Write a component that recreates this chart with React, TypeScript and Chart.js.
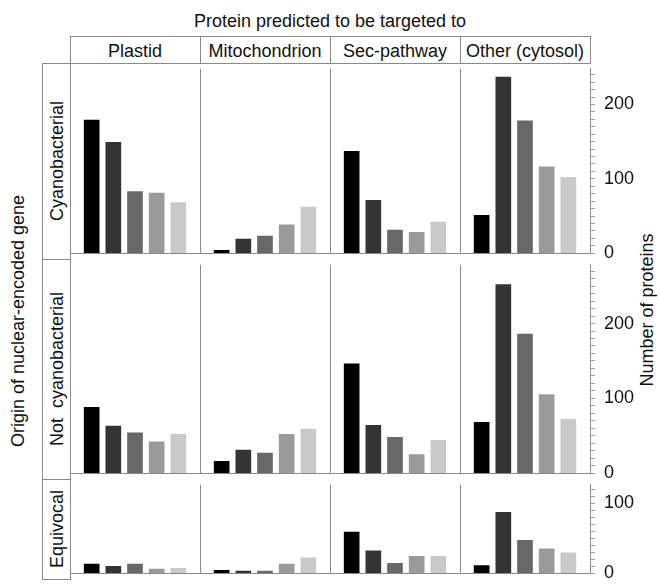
import React, { useEffect, useRef } from 'react';
import { Chart, registerables } from 'chart.js';

Chart.register(...registerables);

// ---- data ----
const targets = ['Plastid', 'Mitochondrion', 'Sec-pathway', 'Other (cytosol)'];
const origins = ['Cyanobacterial', 'Not  cyanobacterial', 'Equivocal'];
const shades = ['#000000', '#343434', '#686868', '#9a9a9a', '#c9c9c9'];

// each inner array: the 5 bars of one target panel
const cyanobacterial = [
  [179, 149, 83, 81, 68],
  [4, 19, 23, 38, 62],
  [137, 71, 31, 28, 42],
  [51, 237, 178, 116, 102],
];
const notCyanobacterial = [
  [88, 63, 54, 42, 52],
  [16, 31, 27, 52, 59],
  [146, 64, 48, 25, 44],
  [68, 252, 186, 105, 72],
];
const equivocal = [
  [13, 10, 13, 6, 7],
  [4, 3, 3, 13, 22],
  [59, 32, 14, 24, 24],
  [11, 87, 47, 35, 29],
];
const rowValues = [cyanobacterial, notCyanobacterial, equivocal];
const rowMax = [248, 278.5, 126.6];
const yAxisTitle = 'Number of proteins';
const xTitle = 'Protein predicted to be targeted to';
const leftTitle = 'Origin of nuclear-encoded gene';

// ---- layout ----
const FONT = "'Liberation Sans', Arial, Helvetica, sans-serif";
const FS = 18;
const LINE = '#8a8a8a';
const LEFT = 70;
const RIGHT = 590;
const ROW_TOP = [63, 259, 479];
const ROW_H = [196, 220, 100];
const PAD = 14;

function RowChart({ values, max, top, height }: { values: number[][]; max: number; top: number; height: number }) {
  const ref = useRef<HTMLCanvasElement | null>(null);
  useEffect(() => {
    if (!ref.current) return;
    const datasets = shades.map((color, s) => ({
      data: values.map((grp, t) => ({ x: t * 6 + s + 1, y: grp[s] })),
      backgroundColor: color,
      borderWidth: 0,
      barThickness: 15,
      grouped: false,
    }));
    const chart = new Chart(ref.current, {
      type: 'bar',
      data: { datasets } as any,
      options: {
        responsive: false,
        animation: false,
        layout: { padding: { left: LEFT, right: 0, top: PAD, bottom: PAD } },
        plugins: { legend: { display: false }, tooltip: { enabled: false } },
        scales: {
          x: {
            type: 'linear',
            min: 0,
            max: 24,
            offset: false,
            ticks: { display: false, stepSize: 6 },
            grid: { color: LINE, drawTicks: false, offset: false, lineWidth: 1 },
            border: { display: true, color: LINE },
            afterFit: (s: any) => {
              s.height = 0;
            },
          },
          y: {
            position: 'right',
            min: 0,
            max,
            ticks: {
              stepSize: 10,
              maxTicksLimit: 200,
              autoSkip: false,
              includeBounds: false,
              padding: 9,
              color: '#111',
              font: { family: FONT, size: FS },
              callback: (v: any) => (Number(v) % 100 === 0 ? String(v) : ''),
            },
            grid: { drawOnChartArea: false, color: '#a0a0a0', tickLength: 5 },
            border: { display: true, color: LINE },
            afterFit: (s: any) => {
              s.width = 660 - RIGHT;
            },
          },
        },
      } as any,
    });
    return () => chart.destroy();
  }, [values, max]);
  return (
    <canvas
      ref={ref}
      width={660}
      height={height + 2 * PAD}
      style={{ position: 'absolute', left: 0, top: top - PAD, width: 660, height: height + 2 * PAD }}
    />
  );
}

function Rot({ text, cx, cy }: { text: string; cx: number; cy: number }) {
  return (
    <div
      style={{
        position: 'absolute',
        left: cx,
        top: cy,
        transform: 'translate(-50%, -50%) rotate(-90deg)',
        whiteSpace: 'pre',
        fontFamily: FONT,
        fontSize: FS,
        lineHeight: `${FS + 2}px`,
        color: '#111',
      }}
    >
      {text}
    </div>
  );
}

export default function App() {
  const colW = (RIGHT - LEFT) / targets.length;
  return (
    <div style={{ position: 'absolute', left: 0, top: 0, width: 660, height: 587, background: '#fff', overflow: 'hidden' }}>
      {/* top title */}
      <div
        style={{
          position: 'absolute',
          left: LEFT,
          width: RIGHT - LEFT,
          top: 11,
          textAlign: 'center',
          fontFamily: FONT,
          fontSize: FS,
          lineHeight: `${FS + 2}px`,
          color: '#111',
        }}
      >
        {xTitle}
      </div>
      {/* header strip */}
      <div
        style={{
          position: 'absolute',
          left: LEFT,
          top: 36,
          width: RIGHT - LEFT + 1,
          height: 28,
          boxSizing: 'border-box',
          border: `1px solid ${LINE}`,
        }}
      />
      {targets.map((t, i) => (
        <React.Fragment key={t}>
          {i > 0 && (
            <div style={{ position: 'absolute', left: LEFT + i * colW, top: 36, width: 1, height: 28, background: LINE }} />
          )}
          <div
            style={{
              position: 'absolute',
              left: LEFT + i * colW,
              width: colW,
              top: 41,
              textAlign: 'center',
              fontFamily: FONT,
              fontSize: FS,
              lineHeight: `${FS + 2}px`,
              color: '#111',
              whiteSpace: 'nowrap',
            }}
          >
            {t}
          </div>
        </React.Fragment>
      ))}
      {/* left strip */}
      <div
        style={{
          position: 'absolute',
          left: 42,
          top: ROW_TOP[0],
          width: LEFT - 42 + 1,
          height: ROW_TOP[2] + ROW_H[2] - ROW_TOP[0] + 1,
          boxSizing: 'border-box',
          border: `1px solid ${LINE}`,
        }}
      />
      {origins.map((o, r) => (
        <React.Fragment key={o}>
          {r > 0 && <div style={{ position: 'absolute', left: 42, top: ROW_TOP[r], width: LEFT - 42, height: 1, background: LINE }} />}
          <Rot text={o} cx={56.5} cy={ROW_TOP[r] + ROW_H[r] / 2} />
        </React.Fragment>
      ))}
      <Rot text={leftTitle} cx={18} cy={321} />
      <Rot text={yAxisTitle} cx={647} cy={310} />
      {rowValues.map((vals, r) => (
        <RowChart key={r} values={vals} max={rowMax[r]} top={ROW_TOP[r]} height={ROW_H[r]} />
      ))}
    </div>
  );
}
